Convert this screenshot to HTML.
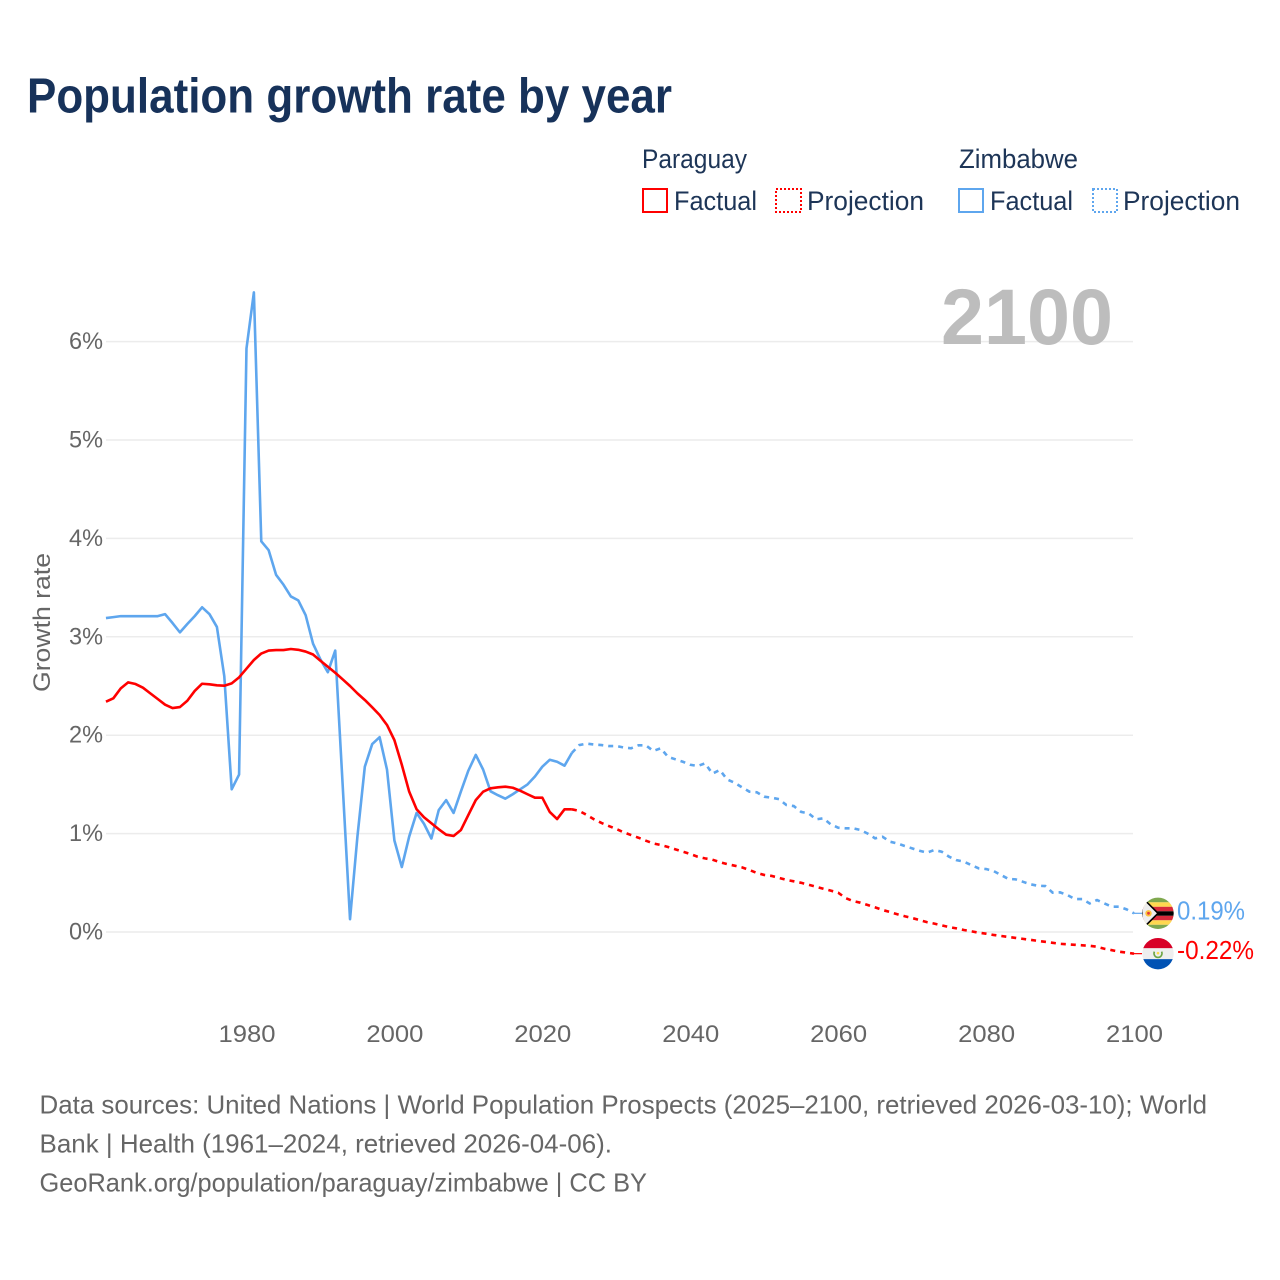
<!DOCTYPE html>
<html lang="en">
<head>
<meta charset="utf-8">
<title>Population growth rate by year</title>
<style>
html,body{margin:0;padding:0;background:#fff;}
svg{display:block;font-family:"Liberation Sans",sans-serif;}
</style>
</head>
<body>
<svg id="chart" xmlns="http://www.w3.org/2000/svg" width="1280" height="1280" viewBox="0 0 1280 1280">
  <rect x="0" y="0" width="1280" height="1280" fill="#ffffff"/>
  <text x="27" y="112.5" font-size="49" font-weight="700" fill="#17325a" textLength="645" lengthAdjust="spacingAndGlyphs">Population growth rate by year</text>

  <g font-size="26.5" fill="#1d3557">
    <text x="642" y="168" textLength="105" lengthAdjust="spacingAndGlyphs">Paraguay</text>
    <text x="959" y="168" textLength="119" lengthAdjust="spacingAndGlyphs">Zimbabwe</text>
    <rect x="643" y="189" width="24" height="23" fill="none" stroke="#ff0000" stroke-width="2"/>
    <text x="674" y="210" textLength="83" lengthAdjust="spacingAndGlyphs">Factual</text>
    <rect x="776" y="189" width="25" height="23" fill="none" stroke="#ff0000" stroke-width="2" stroke-dasharray="2 2"/>
    <text x="807" y="210" textLength="117" lengthAdjust="spacingAndGlyphs">Projection</text>
    <rect x="959" y="189" width="24" height="23" fill="none" stroke="#5ea6ee" stroke-width="2"/>
    <text x="990" y="210" textLength="83" lengthAdjust="spacingAndGlyphs">Factual</text>
    <rect x="1093" y="189" width="24" height="23" fill="none" stroke="#5ea6ee" stroke-width="2" stroke-dasharray="2 2"/>
    <text x="1123" y="210" textLength="117" lengthAdjust="spacingAndGlyphs">Projection</text>
  </g>

  <g id="grid"></g>
  <text x="941" y="344" font-size="79" font-weight="700" fill="#bdbdbd" textLength="172" lengthAdjust="spacingAndGlyphs">2100</text>
  <g id="yticks" font-size="24.5" fill="#666666"></g>
  <g id="xticks" font-size="24.5" fill="#666666"></g>
  <text transform="translate(50,692) rotate(-90)" x="0" y="0" font-size="24.5" fill="#666666" textLength="139" lengthAdjust="spacingAndGlyphs">Growth rate</text>

  <g id="series"></g>

  <defs>
    <clipPath id="flag-clip"><circle cx="0" cy="0" r="15.7"/></clipPath>
  </defs>
  <g id="flag-zimbabwe" clip-path="url(#flag-clip)">
    <rect x="-16" y="-16" width="32" height="32" fill="#eeeeee"/>
    <rect x="-16" y="-16" width="32" height="5" fill="#7fa84e"/>
    <rect x="-16" y="-11" width="32" height="4.5" fill="#ffd84f"/>
    <rect x="-16" y="-6.5" width="32" height="4.5" fill="#d8293a"/>
    <rect x="-16" y="-2" width="32" height="4.5" fill="#000000"/>
    <rect x="-16" y="2.5" width="32" height="4.5" fill="#d8293a"/>
    <rect x="-16" y="7" width="32" height="4.5" fill="#ffd84f"/>
    <rect x="-16" y="11.5" width="32" height="5" fill="#7fa84e"/>
    <polygon points="-16,-16 0,0 -16,16" fill="#eeeeee" stroke="#000000" stroke-width="1.6"/>
    <circle cx="-9.5" cy="0" r="3.2" fill="#ffc33a"/>
    <circle cx="-9.5" cy="0" r="1.4" fill="#e2363f"/>
  </g>
  <g id="flag-paraguay" clip-path="url(#flag-clip)">
    <rect x="-16" y="-16" width="32" height="32" fill="#eeeeee"/>
    <rect x="-16" y="-16" width="32" height="10.5" fill="#d80027"/>
    <rect x="-16" y="5.5" width="32" height="10.5" fill="#0052b4"/>
    <path d="M-3.6,-2 A4,4 0 1 0 3.6,-2" fill="none" stroke="#6da544" stroke-width="1.6"/>
    <circle cx="0" cy="-0.5" r="1.3" fill="#ffda44"/>
  </g>
  <text id="value-zimbabwe" x="1177" font-size="25.5" fill="#5ea6ee" textLength="68" lengthAdjust="spacingAndGlyphs"></text>
  <text id="value-paraguay" x="1177" font-size="25.5" fill="#ff0000" textLength="77" lengthAdjust="spacingAndGlyphs"></text>

  <g font-size="26" fill="#666666">
    <text x="39.5" y="1113.5" textLength="1167.5" lengthAdjust="spacingAndGlyphs">Data sources: United Nations | World Population Prospects (2025–2100, retrieved 2026-03-10); World</text>
    <text x="39.5" y="1152.5" textLength="572.5" lengthAdjust="spacingAndGlyphs">Bank | Health (1961–2024, retrieved 2026-04-06).</text>
    <text x="39.5" y="1191.5" textLength="607.5" lengthAdjust="spacingAndGlyphs">GeoRank.org/population/paraguay/zimbabwe | CC BY</text>
  </g>
</svg>

<script>
const factualYears = [1961,1962,1963,1964,1965,1966,1967,1968,1969,1970,1971,1972,1973,1974,1975,1976,1977,1978,1979,1980,1981,1982,1983,1984,1985,1986,1987,1988,1989,1990,1991,1992,1993,1994,1995,1996,1997,1998,1999,2000,2001,2002,2003,2004,2005,2006,2007,2008,2009,2010,2011,2012,2013,2014,2015,2016,2017,2018,2019,2020,2021,2022,2023,2024];
const projectionYears = [2024,2025,2026,2027,2028,2029,2030,2031,2032,2033,2034,2035,2036,2037,2038,2039,2040,2041,2042,2043,2044,2045,2046,2047,2048,2049,2050,2051,2052,2053,2054,2055,2056,2057,2058,2059,2060,2061,2062,2063,2064,2065,2066,2067,2068,2069,2070,2071,2072,2073,2074,2075,2076,2077,2078,2079,2080,2081,2082,2083,2084,2085,2086,2087,2088,2089,2090,2091,2092,2093,2094,2095,2096,2097,2098,2099,2100];
const paraguayFactual = [2.34,2.375,2.476,2.537,2.52,2.483,2.425,2.368,2.31,2.276,2.286,2.35,2.45,2.523,2.517,2.507,2.503,2.527,2.588,2.676,2.764,2.83,2.86,2.865,2.865,2.876,2.868,2.85,2.82,2.757,2.696,2.635,2.568,2.5,2.425,2.358,2.283,2.205,2.104,1.95,1.70,1.426,1.247,1.166,1.105,1.044,0.989,0.976,1.037,1.19,1.34,1.426,1.46,1.47,1.477,1.466,1.436,1.40,1.365,1.365,1.22,1.148,1.247,1.247];
const paraguayProjection = [1.247,1.23,1.19,1.145,1.108,1.077,1.047,1.013,0.985,0.958,0.928,0.90,0.884,0.864,0.84,0.816,0.793,0.765,0.748,0.735,0.71,0.69,0.674,0.657,0.63,0.60,0.58,0.57,0.55,0.53,0.515,0.50,0.48,0.46,0.44,0.42,0.40,0.345,0.315,0.298,0.274,0.25,0.224,0.203,0.18,0.16,0.142,0.122,0.10,0.085,0.068,0.05,0.037,0.02,0.007,-0.007,-0.017,-0.03,-0.04,-0.05,-0.06,-0.07,-0.08,-0.09,-0.10,-0.11,-0.12,-0.125,-0.13,-0.135,-0.14,-0.15,-0.17,-0.185,-0.20,-0.21,-0.22];
const zimbabweFactual = [3.19,3.20,3.21,3.21,3.21,3.21,3.21,3.21,3.23,3.14,3.045,3.13,3.21,3.30,3.23,3.10,2.60,1.45,1.60,5.93,6.50,3.97,3.88,3.63,3.53,3.41,3.37,3.22,2.93,2.77,2.64,2.86,1.50,0.13,0.97,1.68,1.91,1.98,1.65,0.93,0.66,0.97,1.21,1.10,0.95,1.24,1.34,1.21,1.43,1.64,1.80,1.65,1.43,1.39,1.355,1.40,1.45,1.50,1.58,1.68,1.75,1.73,1.69,1.82];
const zimbabweProjection = [1.82,1.90,1.915,1.905,1.90,1.89,1.89,1.875,1.867,1.897,1.897,1.84,1.867,1.78,1.755,1.73,1.70,1.687,1.714,1.61,1.646,1.55,1.517,1.47,1.426,1.42,1.375,1.365,1.35,1.29,1.28,1.22,1.206,1.145,1.155,1.094,1.06,1.054,1.054,1.037,1.00,0.952,0.968,0.918,0.90,0.874,0.85,0.826,0.806,0.833,0.816,0.765,0.73,0.715,0.68,0.647,0.64,0.62,0.58,0.54,0.535,0.51,0.485,0.47,0.467,0.40,0.403,0.376,0.335,0.335,0.29,0.325,0.29,0.257,0.257,0.23,0.19];
const yTickValues = [0,1,2,3,4,5,6];
const yTickLabels = ['0%','1%','2%','3%','4%','5%','6%'];
const xTickValues = [1980,2000,2020,2040,2060,2080,2100];
const xTickLabels = ['1980','2000','2020','2040','2060','2080','2100'];
const endValueLabels = ['0.19%','-0.22%'];

const NS = 'http://www.w3.org/2000/svg';
const PLOT_RIGHT = 1134, PLOT_LEFT = 106;
function xScale(year){ return 1134 + (year - 2100) * 7.396; }
function yScale(v){ return 932 - v * 98.4; }
function svgEl(tag){ return document.createElementNS(NS, tag); }
function pathFrom(years, values){
  return values.map(function(v, i){
    return (i ? 'L' : 'M') + xScale(years[i]).toFixed(2) + ' ' + yScale(v).toFixed(2);
  }).join(' ');
}

const gridGroup = document.getElementById('grid');
const yTickGroup = document.getElementById('yticks');
yTickValues.forEach(function(v, i){
  const line = svgEl('line');
  
  
  line.setAttribute('x1', PLOT_LEFT);
  line.setAttribute('x2', PLOT_RIGHT - 1);
  line.setAttribute('y1', yScale(v));
  line.setAttribute('y2', yScale(v));
  line.setAttribute('stroke', '#ececec');
  line.setAttribute('stroke-width', '1.5');
  gridGroup.appendChild(line);
  const label = svgEl('text');
  
  
  label.setAttribute('x', 69);
  label.setAttribute('y', yScale(v) + 7.5);
  label.setAttribute('textLength', 34);
  label.setAttribute('lengthAdjust', 'spacingAndGlyphs');
  label.textContent = yTickLabels[i];
  yTickGroup.appendChild(label);
});

const xTickGroup = document.getElementById('xticks');
xTickValues.forEach(function(year, i){
  const label = svgEl('text');
  
  
  label.setAttribute('x', xScale(year) - 28);
  label.setAttribute('y', 1042);
  label.setAttribute('textLength', 57);
  label.setAttribute('lengthAdjust', 'spacingAndGlyphs');
  label.textContent = xTickLabels[i];
  xTickGroup.appendChild(label);
});

const seriesGroup = document.getElementById('series');
const RED = '#ff0000', BLUE = '#5ea6ee';

const zimFactualLine = svgEl('path');


zimFactualLine.setAttribute('d', pathFrom(factualYears, zimbabweFactual));
zimFactualLine.setAttribute('fill', 'none');
zimFactualLine.setAttribute('stroke', BLUE);
zimFactualLine.setAttribute('stroke-width', '2.6');
zimFactualLine.setAttribute('stroke-linejoin', 'round');
seriesGroup.appendChild(zimFactualLine);

const zimProjectionLine = svgEl('path');


zimProjectionLine.setAttribute('d', pathFrom(projectionYears, zimbabweProjection));
zimProjectionLine.setAttribute('fill', 'none');
zimProjectionLine.setAttribute('stroke', BLUE);
zimProjectionLine.setAttribute('stroke-width', '2.6');
zimProjectionLine.setAttribute('stroke-dasharray', '5 5');
seriesGroup.appendChild(zimProjectionLine);

const parFactualLine = svgEl('path');


parFactualLine.setAttribute('d', pathFrom(factualYears, paraguayFactual));
parFactualLine.setAttribute('fill', 'none');
parFactualLine.setAttribute('stroke', RED);
parFactualLine.setAttribute('stroke-width', '2.6');
parFactualLine.setAttribute('stroke-linejoin', 'round');
seriesGroup.appendChild(parFactualLine);

const parProjectionLine = svgEl('path');


parProjectionLine.setAttribute('d', pathFrom(projectionYears, paraguayProjection));
parProjectionLine.setAttribute('fill', 'none');
parProjectionLine.setAttribute('stroke', RED);
parProjectionLine.setAttribute('stroke-width', '2.6');
parProjectionLine.setAttribute('stroke-dasharray', '5 5');
seriesGroup.appendChild(parProjectionLine);

const zimEnd = zimbabweProjection[zimbabweProjection.length - 1];
const parEnd = paraguayProjection[paraguayProjection.length - 1];

const zimConnector = svgEl('line');


zimConnector.setAttribute('x1', PLOT_RIGHT);
zimConnector.setAttribute('x2', PLOT_RIGHT + 8);
zimConnector.setAttribute('y1', yScale(zimEnd));
zimConnector.setAttribute('y2', yScale(zimEnd));
zimConnector.setAttribute('stroke', BLUE);
zimConnector.setAttribute('stroke-width', '1.2');
seriesGroup.appendChild(zimConnector);

const parConnector = svgEl('line');


parConnector.setAttribute('x1', PLOT_RIGHT);
parConnector.setAttribute('x2', PLOT_RIGHT + 8);
parConnector.setAttribute('y1', yScale(parEnd));
parConnector.setAttribute('y2', yScale(parEnd));
parConnector.setAttribute('stroke', RED);
parConnector.setAttribute('stroke-width', '1.2');
seriesGroup.appendChild(parConnector);

document.getElementById('flag-zimbabwe').setAttribute('transform', 'translate(1158,' + yScale(zimEnd) + ')');
document.getElementById('flag-paraguay').setAttribute('transform', 'translate(1158,' + yScale(parEnd) + ')');
const zimValue = document.getElementById('value-zimbabwe');
zimValue.setAttribute('y', yScale(zimEnd) + 6.2);
zimValue.textContent = endValueLabels[0];
const parValue = document.getElementById('value-paraguay');
parValue.setAttribute('y', yScale(parEnd) + 5.6);
parValue.textContent = endValueLabels[1];
</script>
</body>
</html>
